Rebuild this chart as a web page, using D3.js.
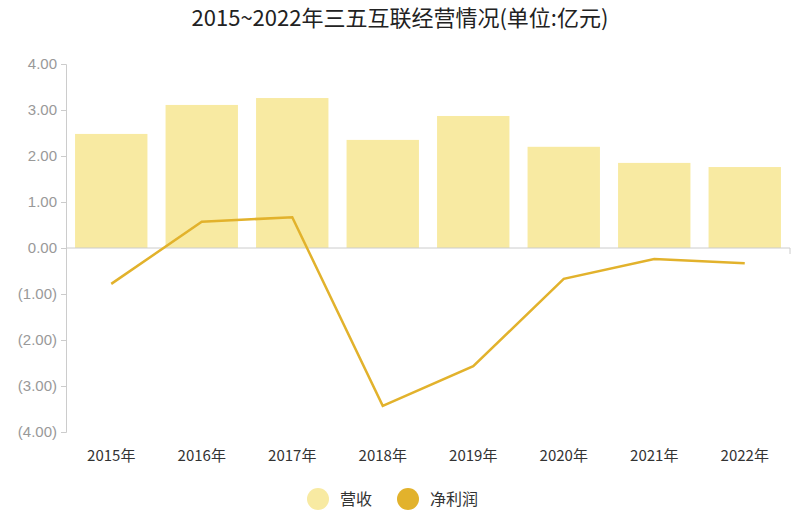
<!DOCTYPE html>
<html lang="zh">
<head>
<meta charset="UTF-8">
<title>三五互联经营情况</title>
<script src="https://d3js.org/d3.v7.min.js"></script>
<style>
  body { margin: 0; background: #fff; font-family: "Noto Sans CJK SC", "Noto Sans", sans-serif; }
</style>
</head>
<body>
<script>
var years = ["2015年","2016年","2017年","2018年","2019年","2020年","2021年","2022年"];
var revenue = [2.48, 3.11, 3.26, 2.35, 2.87, 2.20, 1.85, 1.76];
var profit = [-0.78, 0.57, 0.67, -3.43, -2.57, -0.67, -0.24, -0.33];
var yTicks = [-4, -3, -2, -1, 0, 1, 2, 3, 4];

var width = 800, height = 520;
var svg = d3.select("body").append("svg").attr("width", width).attr("height", height);

var x = d3.scaleBand().domain(years).range([66, 790]).paddingInner(0.2).paddingOuter(0.1);
var y = d3.scaleLinear().domain([-4, 4]).range([432, 64]);

function fmt(v) {
  return v < 0 ? "(" + Math.abs(v).toFixed(2) + ")" : v.toFixed(2);
}

svg.append("text").attr("x", 400).attr("y", 26).attr("text-anchor", "middle")
  .attr("font-size", 22).attr("fill", "#222").text("2015~2022年三五互联经营情况(单位:亿元)");

// y axis
var yAxis = svg.append("g").attr("transform", "translate(66,0)")
  .call(d3.axisLeft(y).tickValues(yTicks).tickFormat(fmt).tickSize(5).tickPadding(4));
yAxis.selectAll("path, line").attr("stroke", "#ccc");
yAxis.selectAll("text").attr("fill", "#999").attr("font-size", 15);

// bars
svg.selectAll("rect.bar").data(revenue).enter().append("rect")
  .attr("x", function (d, i) { return x(years[i]); })
  .attr("width", x.bandwidth())
  .attr("y", function (d) { return y(d); })
  .attr("height", function (d) { return y(0) - y(d); })
  .attr("fill", "#f8eaa2");

// zero line
svg.append("line").attr("x1", 66).attr("x2", 790).attr("y1", y(0)).attr("y2", y(0))
  .attr("stroke", "#ccc");
svg.append("line").attr("x1", 790).attr("x2", 790).attr("y1", y(0)).attr("y2", y(0) + 6)
  .attr("stroke", "#ccc");

// profit line
var line = d3.line()
  .x(function (d, i) { return x(years[i]) + x.bandwidth() / 2; })
  .y(function (d) { return y(d); });
svg.append("path").datum(profit).attr("d", line)
  .attr("fill", "none").attr("stroke", "#e2b22c").attr("stroke-width", 2.5);

// x labels
svg.selectAll("text.xl").data(years).enter().append("text")
  .attr("x", function (d) { return x(d) + x.bandwidth() / 2; })
  .attr("y", 461).attr("text-anchor", "middle")
  .attr("font-size", 15).attr("fill", "#333").text(function (d) { return d; });

// legend
var legend = [["营收", "#f8eaa2", 318], ["净利润", "#e2b22c", 408]];
legend.forEach(function (l) {
  svg.append("circle").attr("cx", l[2]).attr("cy", 499).attr("r", 11).attr("fill", l[1]);
  svg.append("text").attr("x", l[2] + 22).attr("y", 505).attr("font-size", 16)
    .attr("fill", "#333").text(l[0]);
});
</script>
</body>
</html>
